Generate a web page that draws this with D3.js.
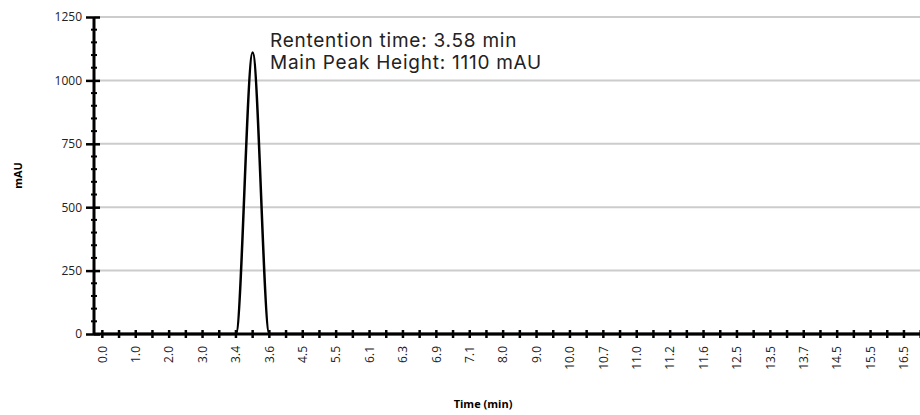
<!DOCTYPE html>
<html>
<head>
<meta charset="utf-8">
<script src="https://cdn.jsdelivr.net/npm/d3@7/dist/d3.min.js"></script>
<style>
  html, body { margin: 0; padding: 0; background: #fff; }
  svg { display: block; }
</style>
</head>
<body>
<svg id="chart" width="920" height="415"></svg>
<script>
// Categories (time, min); labels shown on every other category
const times = ["0.0","0.5","1.0","1.5","2.0","2.5","3.0","3.2","3.4","3.58","3.6","4.0",
  "4.5","5.0","5.5","5.8","6.1","6.2","6.3","6.6","6.9","7.0","7.1","7.5",
  "8.0","8.5","9.0","9.5","10.0","10.3","10.7","10.8","11.0","11.1","11.2","11.4",
  "11.6","12.0","12.5","13.0","13.5","13.6","13.7","14.1","14.5","15.0","15.5","16.0",
  "16.5","17.0"];
// Absorbance values (mAU)
const mAU = [0,0,0,0,0,0,0,0,0,1110,0,0,
  0,0,0,0,0,0,0,0,0,0,0,0,
  0,0,0,0,0,0,0,0,0,0,0,0,
  0,0,0,0,0,0,0,0,0,0,0,0,
  0,0];
const yMajorTicks = [0, 250, 500, 750, 1000, 1250];
const annotationLines = ["Rentention time: 3.58 min", "Main Peak Height: 1110 mAU"];

const svg = d3.select("#chart");
const mLeft = 94, mRight = 929, mTop = 17, mBottom = 334;

const x = d3.scaleBand().domain(times).range([mLeft, mRight]).paddingInner(0).paddingOuter(0);
const y = d3.scaleLinear().domain([0, 1250]).range([mBottom, mTop]);
const cx = d => x(d) + x.bandwidth() / 2;

// gridlines
svg.append("g").selectAll("line").data(yMajorTicks.filter(d => d > 0)).join("line")
  .attr("x1", mLeft).attr("x2", 920)
  .attr("y1", d => y(d)).attr("y2", d => y(d))
  .attr("stroke", "#cccccc").attr("stroke-width", 2);

// Y axis minor ticks
const yMinor = d3.range(0, 1251, 50).filter(d => d % 250 !== 0);
svg.append("g").selectAll("line").data(yMinor).join("line")
  .attr("x1", mLeft - 3).attr("x2", mLeft + 3)
  .attr("y1", d => y(d)).attr("y2", d => y(d))
  .attr("stroke", "#000").attr("stroke-width", 2);

// Y axis
const yAxis = svg.append("g").attr("transform", `translate(${mLeft},0)`)
  .call(d3.axisLeft(y).tickValues(yMajorTicks).tickFormat(d3.format("d")).tickSize(8).tickPadding(4));
yAxis.select(".domain").attr("stroke", "#000").attr("stroke-width", 3)
  .attr("d", `M0,${mTop}V${mBottom}`);
yAxis.selectAll(".tick line").attr("stroke", "#000").attr("stroke-width", 2.5).attr("x2", 6).attr("x1", -8);
yAxis.selectAll(".tick text").attr("font-family", "'Open Sans', sans-serif").attr("font-size", 12).attr("fill", "#222");

// line
const line = d3.line().x((d, i) => cx(times[i])).y(d => y(d)).curve(d3.curveMonotoneX);
svg.append("path").datum(mAU).attr("d", line)
  .attr("fill", "none").attr("stroke", "#000").attr("stroke-width", 2.5);

// X axis
const xAxis = svg.append("g").attr("transform", `translate(0,${mBottom})`)
  .call(d3.axisBottom(x).tickSize(4).tickPadding(8)
    .tickFormat((d, i) => i % 2 === 0 ? d : ""));
xAxis.select(".domain").attr("stroke", "#000").attr("stroke-width", 3)
  .attr("d", `M${mLeft},0H${mRight}`);
xAxis.selectAll(".tick line").attr("stroke", "#000").attr("stroke-width", 2.5).attr("y1", -4).attr("y2", 4);
xAxis.selectAll(".tick text")
  .attr("font-family", "'Open Sans', sans-serif").attr("font-size", 12).attr("fill", "#222")
  .attr("transform", "rotate(-90)")
  .attr("text-anchor", "end")
  .attr("x", -12).attr("y", 0).attr("dy", "0.35em");

// axis titles
svg.append("text").attr("transform", `translate(18,${(mTop + mBottom) / 2}) rotate(-90)`)
  .attr("text-anchor", "middle").attr("dy", "0.35em")
  .attr("font-family", "'Open Sans', sans-serif").attr("font-weight", "bold").attr("font-size", 11)
  .text("mAU");
svg.append("text").attr("x", 483).attr("y", 408)
  .attr("text-anchor", "middle")
  .attr("font-family", "'Open Sans', sans-serif").attr("font-weight", "bold").attr("font-size", 11)
  .text("Time (min)");

// annotation
svg.append("g").selectAll("text").data(annotationLines).join("text")
  .attr("x", 270).attr("y", (d, i) => 47 + i * 22)
  .attr("font-family", "Inter, 'Noto Sans', sans-serif").attr("font-size", 19)
  .attr("letter-spacing", 0.75).attr("fill", "#222")
  .text(d => d);
</script>
</body>
</html>
